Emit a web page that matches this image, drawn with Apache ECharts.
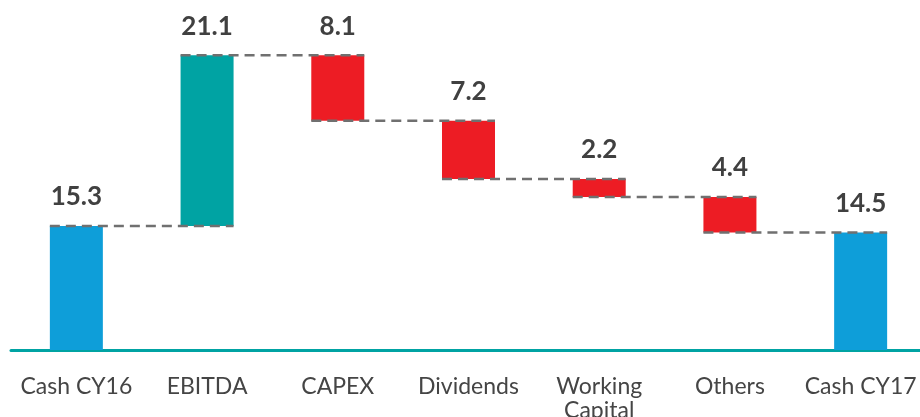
<!DOCTYPE html>
<html>
<head>
<meta charset="utf-8">
<script src="https://cdn.jsdelivr.net/npm/echarts@6/dist/echarts.min.js"></script>
<style>
  html, body { margin: 0; padding: 0; background: #fff; overflow: hidden; }
  #main { width: 926px; height: 417px; }
</style>
</head>
<body>
<div id="main"></div>
<script>
// 瀑布图数据
var categories = ['Cash CY16', 'EBITDA', 'CAPEX', 'Dividends', 'Working\nCapital', 'Others', 'Cash CY17'];
var deltas = [15.3, 21.1, -8.1, -7.2, -2.2, -4.4, 14.5];
var kinds = ['total', 'up', 'down', 'down', 'down', 'down', 'total'];

var colors = { total: '#0e9ed9', up: '#00a3a3', down: '#ed1c24' };

// 计算每根柱子的底部和顶部
var bases = [], heights = [], levels = [];
var running = 0;
for (var i = 0; i < deltas.length; i++) {
    if (kinds[i] === 'total') {
        bases.push(0);
        heights.push(deltas[i]);
        running = deltas[i];
    } else if (deltas[i] >= 0) {
        bases.push(running);
        heights.push(deltas[i]);
        running += deltas[i];
    } else {
        running += deltas[i];
        bases.push(running);
        heights.push(-deltas[i]);
    }
    levels.push(running);
}

// 连接虚线: [起始类目, 水平值]
var connectors = [];
for (var i = 0; i < categories.length - 1; i++) {
    connectors.push([i, levels[i]]);
}

var barW = 53;
var myChart = echarts.init(document.getElementById('main'));

var option = {
    animation: false,
    grid: { left: 11, right: 0, top: 26, bottom: 67, containLabel: false, outerBoundsMode: 'none' },
    xAxis: {
        type: 'category',
        data: categories,
        axisLine: { lineStyle: { color: '#00a3a3', width: 3 } },
        axisTick: { show: false },
        axisLabel: {
            interval: 0,
            margin: 25,
            fontFamily: 'Lato',
            fontSize: 23,
            lineHeight: 24,
            color: '#454545'
        }
    },
    yAxis: {
        type: 'value',
        min: 0,
        max: 40,
        show: false,
        splitLine: { show: false }
    },
    series: [
        {
            type: 'bar',
            stack: 'w',
            barWidth: barW,
            itemStyle: { color: 'transparent' },
            silent: true,
            data: bases
        },
        {
            type: 'bar',
            stack: 'w',
            barWidth: barW,
            data: heights.map(function (h, i) {
                return { value: h, itemStyle: { color: colors[kinds[i]] } };
            }),
            label: {
                show: true,
                position: 'top',
                distance: 16,
                fontFamily: 'Lato',
                fontWeight: 'bold',
                fontSize: 26,
                color: '#404040',
                formatter: function (p) {
                    return Math.abs(deltas[p.dataIndex]).toFixed(1);
                }
            }
        },
        {
            type: 'custom',
            z: 5,
            silent: true,
            data: connectors,
            renderItem: function (params, api) {
                var idx = api.value(0);
                var y = api.value(1);
                var p1 = api.coord([idx, y]);
                var p2 = api.coord([idx + 1, y]);
                return {
                    type: 'line',
                    shape: { x1: p1[0] - barW / 2, y1: p1[1], x2: p2[0] + barW / 2, y2: p2[1] },
                    style: { stroke: '#707070', lineWidth: 2.5, lineDash: [10, 6] }
                };
            }
        }
    ]
};

myChart.setOption(option);
</script>
</body>
</html>
